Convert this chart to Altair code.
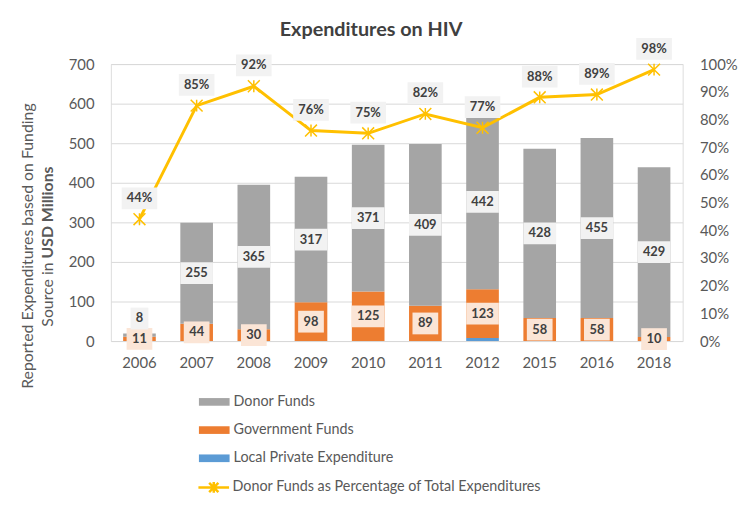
import altair as alt
import pandas as pd

# ---- data ----
years = ["2006", "2007", "2008", "2009", "2010", "2011", "2012", "2015", "2016", "2018"]
donor = [8, 255, 365, 317, 371, 409, 442, 428, 455, 429]
gov = [11, 44, 30, 98, 125, 89, 123, 58, 58, 10]
local = [0, 0, 0, 0, 0, 0, 8, 0, 0, 0]
pct = [0.44, 0.85, 0.92, 0.76, 0.75, 0.82, 0.77, 0.88, 0.89, 0.98]

series_names = ["Donor Funds", "Government Funds", "Local Private Expenditure"]
series_colors = ["#A5A5A5", "#ED7D31", "#5B9BD5"]
line_name = "Donor Funds as Percentage of Total Expenditures"

FONT = "Lato"
TXT = "#595959"
W, H = 578, 280


def box_path(w, h=22, s=36):
    hx = w / s
    hy = h / s
    return f"M-{hx:.4f},-{hy:.4f}H{hx:.4f}V{hy:.4f}H-{hx:.4f}Z"


digit_w = {1: 18, 2: 26, 3: 33}

# stacked bar segments
rows = []
labels = []
for i, yr in enumerate(years):
    base = 0
    for name, v in [("Local Private Expenditure", local[i]),
                    ("Government Funds", gov[i]),
                    ("Donor Funds", donor[i])]:
        rows.append(dict(year=yr, series=name, y0=base, y1=base + v))
        if name == "Government Funds":
            labels.append(dict(year=yr, pos=base + v / 2, txt=str(v),
                               shape=box_path(digit_w[len(str(v))]), bg="#FBE5D6"))
        if name == "Donor Funds":
            pos = base + v / 2 if v >= 20 else base + v + 38
            labels.append(dict(year=yr, pos=pos, txt=str(v),
                               shape=box_path(digit_w[len(str(v))]), bg="#F2F2F2"))
        base += v
bars_df = pd.DataFrame(rows)
lab_df = pd.DataFrame(labels)
line_df = pd.DataFrame(dict(year=years, pct=pct, name=[line_name] * len(years),
                            txt=[f"{round(p * 100)}%" for p in pct]))

x_enc = alt.X("year:N", sort=years,
              scale=alt.Scale(paddingInner=0.43, paddingOuter=0.215),
              axis=alt.Axis(title=None, labelFont=FONT, labelFontSize=15, labelColor=TXT,
                            labelAngle=0, labelPadding=15, ticks=False, tickSize=0,
                            domain=False, grid=False))

y_left_scale = alt.Scale(domain=[0, 700], nice=False, zero=True)
y_left_axis = alt.Axis(title=None, values=list(range(0, 701, 100)), grid=True,
                       gridColor="#D9D9D9", gridWidth=1, domain=False, ticks=False, tickSize=0,
                       labelFont=FONT, labelFontSize=15, labelColor=TXT, labelPadding=17)

y_right_scale = alt.Scale(domain=[0, 1], nice=False, zero=True)
y_right_axis = alt.Axis(title=None, orient="right", format="%",
                        values=[i / 10 for i in range(11)], grid=False, domain=False,
                        ticks=False, tickSize=0, labelFont=FONT, labelFontSize=15,
                        labelColor=TXT, labelPadding=17)

bars = alt.Chart(bars_df).mark_bar(size=33).encode(
    x=x_enc,
    y=alt.Y("y0:Q", scale=y_left_scale, axis=y_left_axis),
    y2="y1:Q",
    color=alt.Color("series:N",
                    scale=alt.Scale(domain=series_names, range=series_colors),
                    legend=alt.Legend(title=None, orient="none", legendX=89, legendY=326,
                                      direction="vertical",
                                      symbolType="M-1,-0.25H1V0.25H-1Z", symbolSize=961,
                                      symbolStrokeWidth=0, symbolOpacity=1,
                                      labelFont=FONT, labelFontSize=14.5, labelColor=TXT,
                                      labelOffset=4, rowPadding=6.5, labelLimit=0)),
)

lab_box = alt.Chart(lab_df).mark_point(filled=True, size=1296, opacity=1, strokeWidth=0).encode(
    x=x_enc,
    y=alt.Y("pos:Q", scale=y_left_scale, axis=y_left_axis),
    shape=alt.Shape("shape:N", scale=None),
    fill=alt.Fill("bg:N", scale=None),
)
lab_txt = alt.Chart(lab_df).mark_text(font=FONT, fontSize=13, fontWeight="bold",
                                      color="#404040", baseline="middle").encode(
    x=x_enc,
    y=alt.Y("pos:Q", scale=y_left_scale, axis=y_left_axis),
    text="txt:N",
)
left = alt.layer(bars, lab_box, lab_txt)

line = alt.Chart(line_df).mark_line(strokeWidth=3).encode(
    x=x_enc,
    y=alt.Y("pct:Q", scale=y_right_scale, axis=y_right_axis),
    stroke=alt.Stroke("name:N", scale=alt.Scale(domain=[line_name], range=["#FFC000"]),
                      legend=alt.Legend(title=None, orient="none", legendX=87, legendY=411,
                                        symbolType="M-1,0H1M-0.3,-0.3L0.3,0.3M-0.3,0.3L0.3,-0.3M0,-0.35V0.35",
                                        symbolSize=961, symbolStrokeWidth=2.5,
                                        symbolFillColor="transparent",
                                        labelFont=FONT, labelFontSize=14.5, labelColor=TXT,
                                        labelOffset=2, labelLimit=0)),
)
markers = alt.Chart(line_df).mark_point(shape="M-1,-1L1,1M-1,1L1,-1M0,-1V1", size=144,
                                        filled=False, strokeWidth=1.5, color="#FFC000",
                                        opacity=1).encode(
    x=x_enc,
    y=alt.Y("pct:Q", scale=y_right_scale, axis=y_right_axis),
)
pbox = alt.Chart(line_df).mark_point(shape=box_path(36), size=1296, filled=True,
                                     color="#F2F2F2", opacity=1, strokeWidth=0,
                                     yOffset=-21).encode(
    x=x_enc,
    y=alt.Y("pct:Q", scale=y_right_scale, axis=y_right_axis),
)
ptxt = alt.Chart(line_df).mark_text(font=FONT, fontSize=13, fontWeight="bold",
                                    color="#404040", baseline="middle", dy=-21).encode(
    x=x_enc,
    y=alt.Y("pct:Q", scale=y_right_scale, axis=y_right_axis),
    text="txt:N",
)
right = alt.layer(line, markers, pbox, ptxt)

one = alt.Data(values=[{}])
title = alt.Chart(one).mark_text(font=FONT, fontSize=20, fontWeight="bold", color="#404040",
                                 align="center", baseline="alphabetic").encode(
    x=alt.value(263), y=alt.value(-28), text=alt.value("Expenditures on HIV"))
ytitle1 = alt.Chart(one).mark_text(font=FONT, fontSize=16, color=TXT, angle=270,
                                   align="center", baseline="middle").encode(
    x=alt.value(-84), y=alt.value(184),
    text=alt.value("Reported Expenditures based on Funding"))
ytitle2a = alt.Chart(one).mark_text(font=FONT, fontSize=16, color=TXT, angle=270,
                                    align="center", baseline="middle").encode(
    x=alt.value(-64), y=alt.value(233), text=alt.value("Source in"))
ytitle2b = alt.Chart(one).mark_text(font=FONT, fontSize=16, fontWeight="bold", color=TXT,
                                    angle=270, align="center", baseline="middle").encode(
    x=alt.value(-64), y=alt.value(150), text=alt.value("USD Millions"))

chart = alt.layer(left, right, title, ytitle1, ytitle2a, ytitle2b).resolve_scale(
    y="independent"
).properties(
    width=W, height=H,
    autosize=alt.AutoSizeParams(type="none"),
    padding={"left": 104, "top": 54, "right": 60, "bottom": 160},
).configure_view(stroke=None).configure(background="white")

chart.save("out.html", embed_options={"renderer": "svg", "actions": False})
